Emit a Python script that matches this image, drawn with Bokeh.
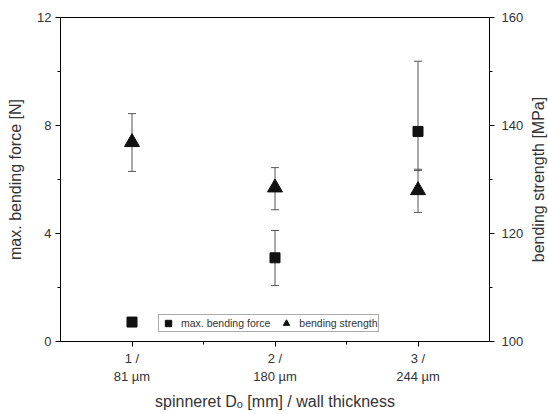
from bokeh.plotting import figure
from bokeh.layouts import row
from bokeh.models import (Range1d, LinearAxis, FixedTicker, Whisker, TeeHead,
                          ColumnDataSource, Legend, LegendItem)
from bokeh.embed import file_html
from bokeh.resources import INLINE

positions = [1, 2, 3]
tick_labels = ["1 /\n81 µm", "2 /\n180 µm", "3 /\n244 µm"]

force = [0.72, 3.10, 7.78]
force_lower = [0.72, 2.07, 6.33]
force_upper = [0.72, 4.11, 10.38]

strength = [136.9, 128.5, 128.0]
strength_lower = [131.5, 124.4, 123.9]
strength_upper = [142.2, 132.2, 131.9]

FONT = "Liberation Sans"
TXT = "#333333"

p = figure(width=526, height=414, output_backend="svg", toolbar_location=None,
           x_range=Range1d(0.5, 3.5), y_range=Range1d(0, 12),
           min_border_left=60, min_border_right=33, min_border_top=17,
           min_border_bottom=73)
p.extra_y_ranges = {"strength": Range1d(100, 160)}
p.xgrid.visible = False
p.ygrid.visible = False
p.outline_line_color = "black"
p.outline_line_width = 1
p.background_fill_color = "white"
p.border_fill_color = "white"

right_axis = LinearAxis(y_range_name="strength")
p.add_layout(right_axis, "right")

p.xaxis.ticker = FixedTicker(ticks=positions, minor_ticks=[1.5, 2.5])
p.xaxis.major_label_overrides = {pos: lab for pos, lab in zip(positions, tick_labels)}
p.yaxis[0].ticker = FixedTicker(ticks=[0, 4, 8, 12], minor_ticks=[2, 6, 10])
right_axis.ticker = FixedTicker(ticks=[100, 120, 140, 160], minor_ticks=[110, 130, 150])

p.xaxis.axis_label = "spinneret Dₒ [mm] / wall thickness"
p.yaxis[0].axis_label = "max. bending force [N]"

for ax in [p.xaxis[0], p.yaxis[0], right_axis]:
    ax.axis_line_color = "black"
    ax.major_tick_line_color = "black"
    ax.minor_tick_line_color = "black"
    ax.major_tick_out = 5
    ax.major_tick_in = 0
    ax.minor_tick_out = 3
    ax.minor_tick_in = 0
    ax.major_label_text_font = FONT
    ax.major_label_text_font_size = "13px"
    ax.major_label_text_color = TXT
    ax.axis_label_text_font = FONT
    ax.axis_label_text_font_size = "16px"
    ax.axis_label_text_font_style = "normal"
    ax.axis_label_text_color = TXT
    ax.major_label_standoff = 4

p.xaxis.axis_label_standoff = 6
p.yaxis[0].axis_label_standoff = 10
right_axis.major_label_standoff = 7

src_f = ColumnDataSource(dict(x=positions, y=force, lo=force_lower, hi=force_upper))
src_s = ColumnDataSource(dict(x=positions, y=strength, lo=strength_lower, hi=strength_upper))

for src, rn in [(src_f, "default"), (src_s, "strength")]:
    w = Whisker(source=src, base="x", lower="lo", upper="hi",
                line_color="#555555", line_width=1, y_range_name=rn,
                upper_head=TeeHead(size=8, line_color="#555555", line_width=1),
                lower_head=TeeHead(size=8, line_color="#555555", line_width=1))
    p.add_layout(w)

r_f = p.scatter("x", "y", source=src_f, marker="square", size=10,
                fill_color="#111111", line_color="#111111")
r_s = p.scatter("x", "y", source=src_s, marker="triangle", size=15,
                fill_color="#111111", line_color="#111111", y_range_name="strength")

legend = Legend(items=[LegendItem(label="max. bending force", renderers=[r_f]),
                       LegendItem(label="bending strength", renderers=[r_s])],
                orientation="horizontal", location=(98, 9),
                label_text_font=FONT, label_text_font_size="10.5px",
                label_text_color=TXT, glyph_width=18, glyph_height=16,
                label_height=12, label_standoff=4, spacing=7, padding=0,
                margin=0, border_line_color="#555555", border_line_width=1,
                background_fill_alpha=1)
p.add_layout(legend)

# narrow companion panel that carries the right-hand axis title (reads bottom-to-top)
q = figure(width=22, height=414, output_backend="svg", toolbar_location=None,
           x_range=Range1d(0, 1), y_range=Range1d(100, 160),
           min_border_left=0, min_border_right=0, min_border_top=17,
           min_border_bottom=73)
q.xaxis.visible = False
q.xgrid.visible = False
q.ygrid.visible = False
q.outline_line_color = None
q.background_fill_color = "white"
q.border_fill_color = "white"
qa = q.yaxis[0]
qa.ticker = FixedTicker(ticks=[], minor_ticks=[])
qa.axis_label = "bending strength [MPa]"
qa.axis_label_text_font = FONT
qa.axis_label_text_font_size = "16px"
qa.axis_label_text_font_style = "normal"
qa.axis_label_text_color = TXT
qa.axis_label_standoff = 0
qa.major_label_standoff = 0
qa.axis_line_color = None
qa.major_tick_line_color = None
qa.minor_tick_line_color = None
qa.major_tick_out = 0
qa.minor_tick_out = 0

layout = row(p, q, spacing=0)
open("out.html", "w").write(file_html(layout, INLINE))
